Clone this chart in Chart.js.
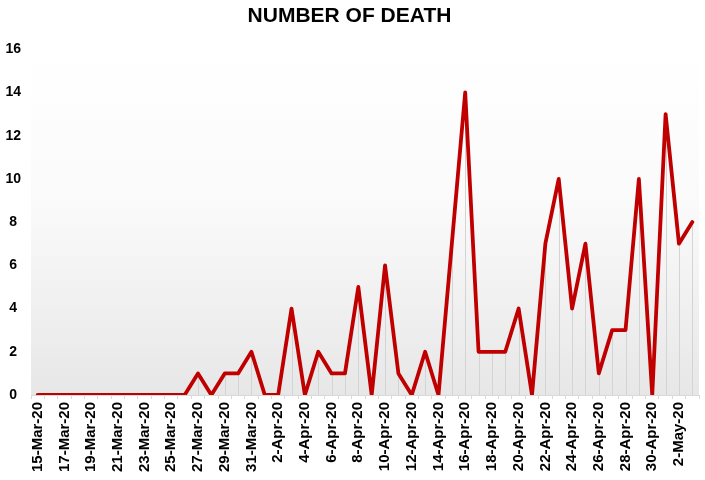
<!DOCTYPE html>
<html>
<head>
<meta charset="utf-8">
<script src="https://cdn.jsdelivr.net/npm/chart.js@4/dist/chart.umd.min.js"></script>
<style>
  html, body { margin: 0; padding: 0; background: #ffffff; }
  #wrap { width: 705px; height: 480px; }
</style>
</head>
<body>
<div id="wrap"><canvas id="deathChart" width="705" height="480"></canvas></div>
<script>
// === DATA ===
const days = [
  '15-Mar-20','16-Mar-20','17-Mar-20','18-Mar-20','19-Mar-20','20-Mar-20','21-Mar-20','22-Mar-20',
  '23-Mar-20','24-Mar-20','25-Mar-20','26-Mar-20','27-Mar-20','28-Mar-20','29-Mar-20','30-Mar-20',
  '31-Mar-20','1-Apr-20','2-Apr-20','3-Apr-20','4-Apr-20','5-Apr-20','6-Apr-20','7-Apr-20',
  '8-Apr-20','9-Apr-20','10-Apr-20','11-Apr-20','12-Apr-20','13-Apr-20','14-Apr-20','15-Apr-20',
  '16-Apr-20','17-Apr-20','18-Apr-20','19-Apr-20','20-Apr-20','21-Apr-20','22-Apr-20','23-Apr-20',
  '24-Apr-20','25-Apr-20','26-Apr-20','27-Apr-20','28-Apr-20','29-Apr-20','30-Apr-20','1-May-20',
  '2-May-20','3-May-20'
];
const deaths = [
  0, 0, 0, 0, 0, 0, 0, 0,
  0, 0, 0, 0, 1, 0, 1, 1,
  2, 0, 0, 4, 0, 2, 1, 1,
  5, 0, 6, 1, 0, 2, 0, 7,
  14, 2, 2, 2, 4, 0, 7, 10,
  4, 7, 1, 3, 3, 10, 0, 13,
  7, 8
];
const yTicks = [0, 2, 4, 6, 8, 10, 12, 14, 16];

const FONT = 'Liberation Sans, Arial, sans-serif';

// plot area background: light grey at the bottom fading to white
const plotBackground = {
  id: 'plotBackground',
  beforeDraw(chart) {
    const { ctx, chartArea: a } = chart;
    const g = ctx.createLinearGradient(0, a.bottom, 0, a.top);
    g.addColorStop(0, '#e7e7e7');
    g.addColorStop(0.55, '#fafafa');
    g.addColorStop(1, '#ffffff');
    ctx.save();
    ctx.fillStyle = g;
    ctx.fillRect(a.left, a.top, a.right - a.left, a.bottom - a.top);
    ctx.restore();
  }
};

// Excel-style drop lines from each point to the axis
const dropLines = {
  id: 'dropLines',
  beforeDatasetsDraw(chart) {
    const { ctx, scales: { x, y } } = chart;
    ctx.save();
    ctx.strokeStyle = '#d4d4d4';
    ctx.lineWidth = 1;
    deaths.forEach((v, i) => {
      const px = Math.round(x.getPixelForValue(i)) + 0.5;
      ctx.beginPath();
      ctx.moveTo(px, y.getPixelForValue(v));
      ctx.lineTo(px, y.getPixelForValue(0));
      ctx.stroke();
    });
    ctx.restore();
  }
};

new Chart(document.getElementById('deathChart'), {
  type: 'line',
  data: {
    labels: days,
    datasets: [{
      label: 'Number of death',
      data: deaths,
      borderColor: '#c00000',
      borderWidth: 3.8,
      borderJoinStyle: 'round',
      borderCapStyle: 'round',
      tension: 0,
      pointRadius: 0,
      fill: false
    }]
  },
  options: {
    responsive: false,
    animation: false,
    layout: { padding: { left: 0, right: 6, top: 0, bottom: 0 } },
    plugins: {
      legend: { display: false },
      tooltip: { enabled: false },
      title: {
        display: true,
        text: 'NUMBER OF DEATH',
        color: '#000000',
        font: { family: FONT, size: 21, weight: 'bold' },
        padding: { top: 4, bottom: 20 }
      }
    },
    scales: {
      x: {
        offset: true,
        grid: {
          offset: true,
          drawOnChartArea: false,
          drawTicks: true,
          tickLength: 4,
          color: '#d9d9d9'
        },
        border: { color: '#d9d9d9' },
        ticks: {
          autoSkip: false,
          maxRotation: 90,
          minRotation: 90,
          color: '#000000',
          font: { family: FONT, size: 15, weight: 'bold' },
          padding: 3,
          callback: (val, i) => (i % 2 === 0 ? days[i] : '')
        },
        afterFit(scale) {
          scale.height = 85;
          scale.paddingRight = 0;
        }
      },
      y: {
        min: 0,
        max: 16,
        afterBuildTicks(scale) { scale.ticks = yTicks.map(v => ({ value: v })); },
        grid: { display: false, drawTicks: false },
        border: { display: false },
        ticks: {
          color: '#000000',
          font: { family: FONT, size: 14, weight: 'bold' },
          crossAlign: 'center',
          padding: 10
        },
        afterFit(scale) { scale.width = 31; }
      }
    }
  },
  plugins: [plotBackground, dropLines]
});
</script>
</body>
</html>
